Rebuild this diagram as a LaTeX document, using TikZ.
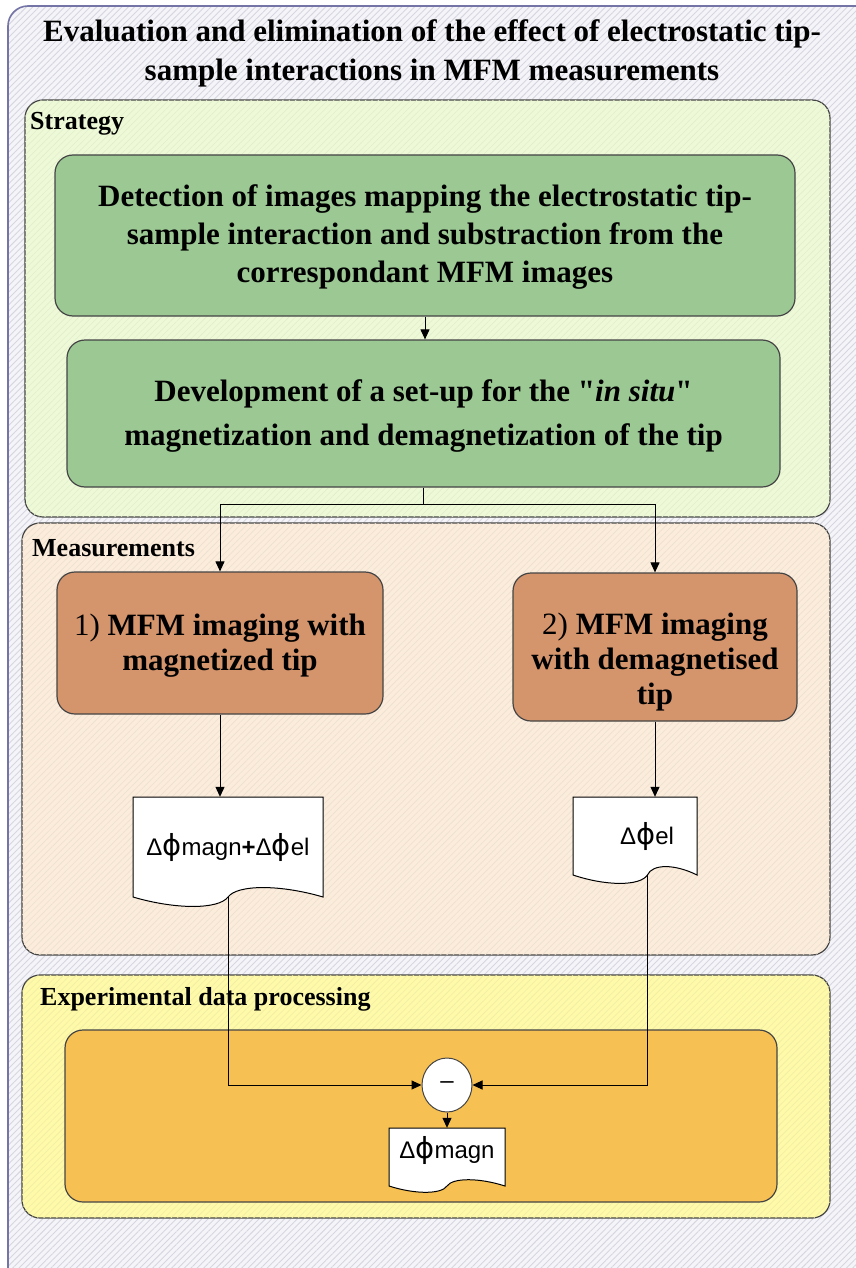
\documentclass[tikz,border=0pt]{standalone}
\usepackage{fontspec}
\setmainfont{Liberation Serif}[Ligatures=TeXOff]
\newfontfamily\sansfam{Liberation Sans}[Ligatures=TeXOff]
\newfontfamily\phifont{DejaVu Sans}
\usetikzlibrary{arrows.meta,patterns.meta,shapes.geometric}

\definecolor{framebg}{HTML}{F5F5F9}
\definecolor{framehatch}{HTML}{D6D6E0}
\definecolor{frameline}{HTML}{7474A6}
\definecolor{stratbg}{HTML}{EEF9D8}
\definecolor{stephue}{HTML}{9CC894}
\definecolor{measbg}{HTML}{FBECDB}
\definecolor{brownhue}{HTML}{D4946C}
\definecolor{procbg}{HTML}{FEFAAA}
\definecolor{procinner}{HTML}{F7C052}
\definecolor{edge}{HTML}{454545}

% phase symbol: Delta followed by a tall stroked phi
\newcommand{\dphase}{Δ{\phifont\fontsize{29}{29}\selectfont ϕ}}

% wavy "document" outline: x0, y0, width, side height, split fraction, amplitude
\newcommand{\docoutline}[6]{%
  \draw[docline] (#1,#2) -- ({#1+#3},#2) -- ({#1+#3},{#2+#4})
   .. controls ({#1+#3-0.45*(1-#5)*#3},{#2+#4-1.4*#6}) and ({#1+#5*#3+0.1*(1-#5)*#3},{#2+#4-1.4*#6}) .. ({#1+#5*#3},{#2+#4})
   .. controls ({#1+#5*#3-0.1*#5*#3},{#2+#4+1.4*#6}) and ({#1+0.45*#5*#3},{#2+#4+1.4*#6}) .. (#1,{#2+#4}) -- cycle;}

\tikzset{
  panelbox/.style={draw=edge, line width=1.2pt, rounded corners=18pt, inner sep=0pt},
  stepbox/.style={draw=edge, line width=1.2pt, rounded corners=18pt, inner sep=0pt},
  hatched/.style={postaction={pattern={Lines[angle=45,distance=4.5pt,line width=0.6pt]}, pattern color=#1}},
  paneltitle/.style={anchor=west, inner sep=0pt, font=\fontsize{26}{30}\selectfont\bfseries},
  steptext/.style={align=center, inner sep=0pt, font=\fontsize{31}{38}\selectfont\bfseries},
  doctext/.style={inner sep=0pt, font=\sansfam\fontsize{24}{28}\selectfont},
  docline/.style={draw=black, line width=1pt, fill=white},
  arr/.style={-{Triangle[length=10pt,width=9pt]}, line width=1pt, draw=black},
  link/.style={line width=1pt, draw=black},
}

\begin{document}
\begin{tikzpicture}[x=1pt,y=-1pt]
\useasboundingbox (0,0) rectangle (856,1268);
\clip (0,0) rectangle (856,1268);
\fill[white] (0,0) rectangle (856,1268);

% outer hatched frame
\path[fill=framebg, rounded corners=20pt] (8,6) rectangle (920,1330);
\path[pattern={Lines[angle=45,distance=4.5pt,line width=0.9pt]}, pattern color=framehatch, rounded corners=20pt] (8,6) rectangle (920,1330);
\draw[frameline, line width=1.6pt, rounded corners=20pt] (8,6) rectangle (920,1330);

\node[align=center, inner sep=0pt, font=\fontsize{31}{39}\selectfont\bfseries] (title) at (432,53)
  {Evaluation and elimination of the effect of electrostatic tip-\\sample interactions in MFM measurements};

% Strategy panel
\node[panelbox, fill=stratbg, hatched=stratbg!95!black, minimum width=805pt, minimum height=417pt] (strategy) at (427.5,308.5) {};
\node[paneltitle] (stratlabel) at (30,124) {Strategy};
\node[stepbox, fill=stephue, minimum width=740pt, minimum height=161pt] (green1) at (425,235.5) {};
\node[steptext] (green1text) at (425,237)
  {Detection of images mapping the electrostatic tip-\\sample interaction and substraction from the\\correspondant MFM images};
\node[stepbox, fill=stephue, minimum width=713pt, minimum height=147pt] (green2) at (423.5,413.5) {};
\node[steptext, font=\fontsize{31}{44}\selectfont\bfseries] (green2text) at (423.5,416)
  {Development of a set-up for the "\textit{in situ}"\\magnetization and demagnetization of the tip};

% Measurements panel
\node[panelbox, fill=measbg, hatched=measbg!95!black, minimum width=808pt, minimum height=432pt] (meas) at (426,739) {};
\node[paneltitle] (measlabel) at (32,548) {Measurements};
\node[stepbox, fill=brownhue, minimum width=326pt, minimum height=142pt] (brown1) at (220,643) {};
\node[steptext, font=\fontsize{31}{35}\selectfont\bfseries] (brown1text) at (220,646)
  {{\mdseries 1)} MFM imaging with\\magnetized tip};
\node[stepbox, fill=brownhue, minimum width=284pt, minimum height=148pt] (brown2) at (655,647) {};
\node[steptext, font=\fontsize{31}{35}\selectfont\bfseries] (brown2text) at (655,662)
  {{\mdseries 2)} MFM imaging\\with demagnetised\\tip};

% measured images
\docoutline{133}{797}{190}{100}{0.5}{9}
\node[doctext, minimum width=190pt, minimum height=100pt] (doc1) at (228,847)
  {\dphase magn{\bfseries +}\dphase el};
\docoutline{573}{797}{124}{78}{0.6}{8}
\node[doctext, minimum width=124pt, minimum height=78pt] (doc2) at (647,836) {\dphase el};
\coordinate (doc1out) at (228,897);
\coordinate (doc2out) at (647.4,875);

% Experimental data processing panel
\node[panelbox, fill=procbg, hatched=procbg!95!black, minimum width=808pt, minimum height=243pt] (proc) at (426,1096.5) {};
\node[paneltitle] (proclabel) at (40,999) {Experimental data processing};
\node[stepbox, fill=procinner, minimum width=712pt, minimum height=172pt] (procbox) at (421,1116) {};
\node[ellipse, draw=edge, line width=1pt, fill=white, minimum width=50pt, minimum height=54pt, inner sep=0pt,
      font=\sansfam\fontsize{24}{28}\selectfont] (minus) at (447,1085) {–};
\docoutline{389}{1128}{116}{58}{0.5}{6}
\node[doctext, minimum width=116pt, minimum height=44pt] (doc3) at (447,1150) {\dphase magn};

% connectors
\draw[arr] (green1.south) -- (green1.south |- green2.north);
\draw[link] (green2.south) -- ++(0,17) coordinate (split);
\draw[arr] (split) -| (brown1.north);
\draw[arr] (split) -| (brown2.north);
\draw[arr] (brown1.south) -- (brown1.south |- doc1.north);
\draw[arr] (brown2.south) -- (brown2.south |- doc2.north);
\draw[arr] (doc1out) |- (minus.west);
\draw[arr] (doc2out) |- (minus.east);
\draw[arr] (minus.south) -- (minus.south |- doc3.north);
\end{tikzpicture}
\end{document}
